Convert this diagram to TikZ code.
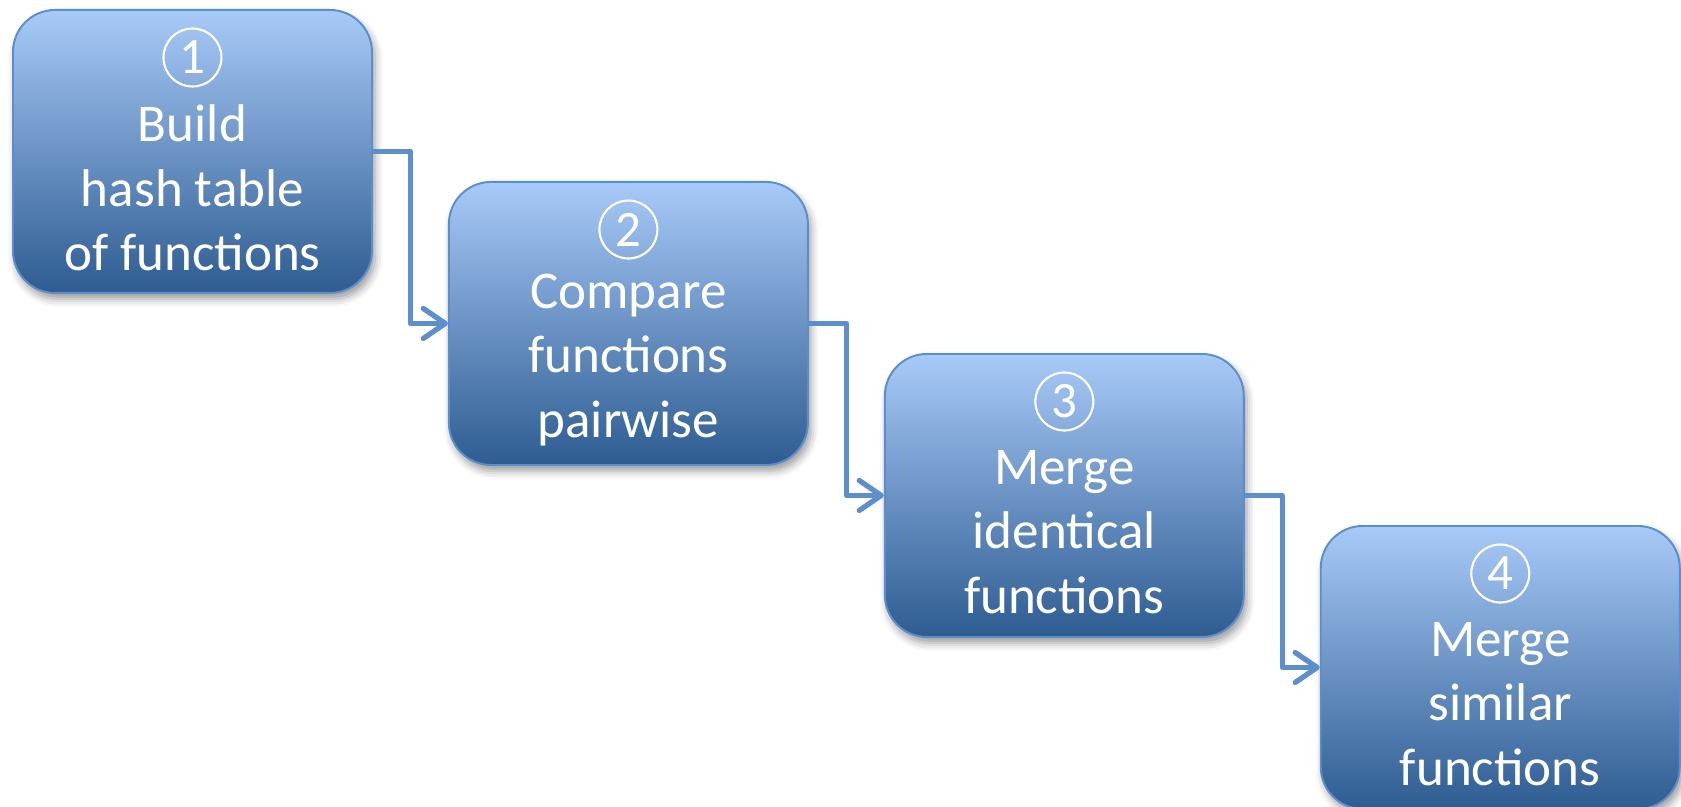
\documentclass[tikz,border=0pt]{standalone}
\usepackage{fontspec}
\setmainfont{Carlito}
\usepackage{tikz}
\usetikzlibrary{arrows.meta,positioning,calc,shadows.blur}
\definecolor{steptop}{RGB}{168,202,248}
\definecolor{stepbot}{RGB}{46,92,145}
\definecolor{stepedge}{RGB}{92,142,204}
\definecolor{flowline}{RGB}{92,143,204}

\begin{document}
\begin{tikzpicture}[
    >={Straight Barb[length=4.4mm,width=6mm,round]},
    stepbox/.style={draw=stepedge, line width=1.1pt, rounded corners=8.4mm, top color=steptop, bottom color=stepbot, minimum width=71.8mm, minimum height=56.6mm, inner sep=0pt, blur shadow={shadow xshift=0.6mm, shadow yshift=-1.2mm, shadow blur radius=1.6mm, shadow opacity=40}},
    stepnum/.style={circle, draw=white, line width=1.2pt, minimum size=11.6mm, inner sep=0pt, text=white, font=\fontsize{29}{29}\selectfont},
    steptext/.style={align=center, text=white, font=\fontsize{30.2}{36.6}\selectfont},
    flow/.style={->, draw=flowline, line width=3pt, line join=round}
]
\useasboundingbox (0,0) rectangle (33.62,-16.14);

\node[stepbox, anchor=north west] (b1) at (0.24,-0.18) {};
\node[stepbox, below right=3.44cm and 1.5cm of b1.north east] (b2) {};
\node[stepbox, below right=3.44cm and 1.5cm of b2.north east] (b3) {};
\node[stepbox, below right=3.44cm and 1.5cm of b3.north east] (b4) {};

\node[stepnum] (n1) at ([yshift=-9.7mm]b1.north) {1};
\node[stepnum] (n2) at ([yshift=-9.7mm]b2.north) {2};
\node[stepnum] (n3) at ([yshift=-9.7mm]b3.north) {3};
\node[stepnum] (n4) at ([yshift=-9.7mm]b4.north) {4};

\node[steptext] (t1) at ([yshift=-7.3mm]b1.center) {Build\\hash table\\of functions};
\node[steptext] (t2) at ([yshift=-7.3mm]b2.center) {Compare\\functions\\pairwise};
\node[steptext] (t3) at ([yshift=-7.3mm]b3.center) {Merge\\identical\\functions};
\node[steptext] (t4) at ([yshift=-7.3mm]b4.center) {Merge\\similar\\functions};

\draw[flow] (b1.east) -| ($(b1.east)!0.5!(b2.west)$) |- (b2.west);
\draw[flow] (b2.east) -| ($(b2.east)!0.5!(b3.west)$) |- (b3.west);
\draw[flow] (b3.east) -| ($(b3.east)!0.5!(b4.west)$) |- (b4.west);
\end{tikzpicture}
\end{document}
